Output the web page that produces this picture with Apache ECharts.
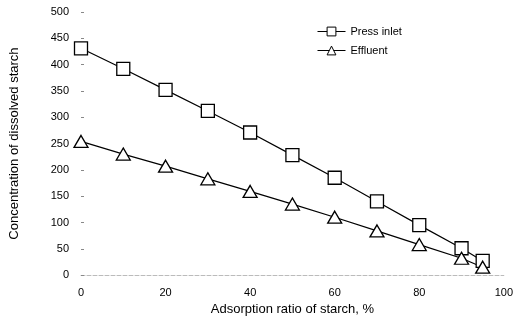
<!DOCTYPE html>
<html>
<head>
<meta charset="utf-8">
<script src="https://cdn.jsdelivr.net/npm/echarts@6/dist/echarts.min.js"></script>
<style>
  html, body { margin: 0; padding: 0; background: #fff; }
  #chart { width: 516px; height: 321px; }
</style>
</head>
<body>
<div id="chart"></div>
<script>
var ratio = [0, 10, 20, 30, 40, 50, 60, 70, 80, 90, 95];
var pressInlet = [431, 392, 352, 312, 271, 228, 185, 140, 95, 51, 27];
var effluent = [254, 230, 207, 183, 159, 135, 110, 84, 58, 32, 15];
var yTicks = [0, 50, 100, 150, 200, 250, 300, 350, 400, 450, 500];

function pairs(xs, ys) {
    var out = [];
    for (var i = 0; i < xs.length; i++) out.push([xs[i], ys[i]]);
    return out;
}

var myChart = echarts.init(document.getElementById('chart'));

var option = {
    animation: false,
    textStyle: { fontFamily: 'Liberation Sans, Arial, sans-serif', color: '#000' },
    grid: { left: 79, right: 8, top: 12, bottom: 42 },
    legend: {
        orient: 'vertical',
        left: 312,
        top: 21,
        itemWidth: 28,
        itemHeight: 11,
        itemGap: 8,
        lineStyle: { width: 1 },
        itemStyle: { borderWidth: 1 },
        textStyle: { fontSize: 11, color: '#000' },
        data: ['Press inlet', 'Effluent']
    },
    xAxis: {
        type: 'value',
        min: 0,
        max: 100,
        interval: 20,
        name: 'Adsorption ratio of starch, %',
        nameLocation: 'middle',
        nameGap: 24,
        nameTextStyle: { fontSize: 13, color: '#000' },
        axisLine: { show: true, lineStyle: { color: '#bbb', type: 'dashed', width: 1 } },
        axisTick: { show: false },
        axisLabel: { fontSize: 11, color: '#000', margin: 12 },
        splitLine: { show: false }
    },
    yAxis: {
        type: 'value',
        min: 0,
        max: 500,
        interval: 50,
        name: 'Concentration of dissolved starch',
        nameLocation: 'middle',
        nameGap: 60,
        nameTextStyle: { fontSize: 13, color: '#000' },
        axisLine: { show: false },
        axisTick: { show: true, inside: true, length: 3, lineStyle: { color: '#888' } },
        axisLabel: {
            fontSize: 11, color: '#000', margin: 12,
            formatter: function (v) { return yTicks.indexOf(v) >= 0 ? String(v) : ''; }
        },
        splitLine: { show: false }
    },
    series: [
        {
            name: 'Press inlet',
            type: 'line',
            data: pairs(ratio, pressInlet),
            symbol: 'rect',
            symbolSize: 13,
            lineStyle: { color: '#000', width: 1.2 },
            itemStyle: { color: '#fff', borderColor: '#000', borderWidth: 1.3 }
        },
        {
            name: 'Effluent',
            type: 'line',
            data: pairs(ratio, effluent),
            symbol: 'triangle',
            symbolSize: [14, 12],
            lineStyle: { color: '#000', width: 1.2 },
            itemStyle: { color: '#fff', borderColor: '#000', borderWidth: 1.3 }
        }
    ]
};

myChart.setOption(option);
</script>
</body>
</html>
